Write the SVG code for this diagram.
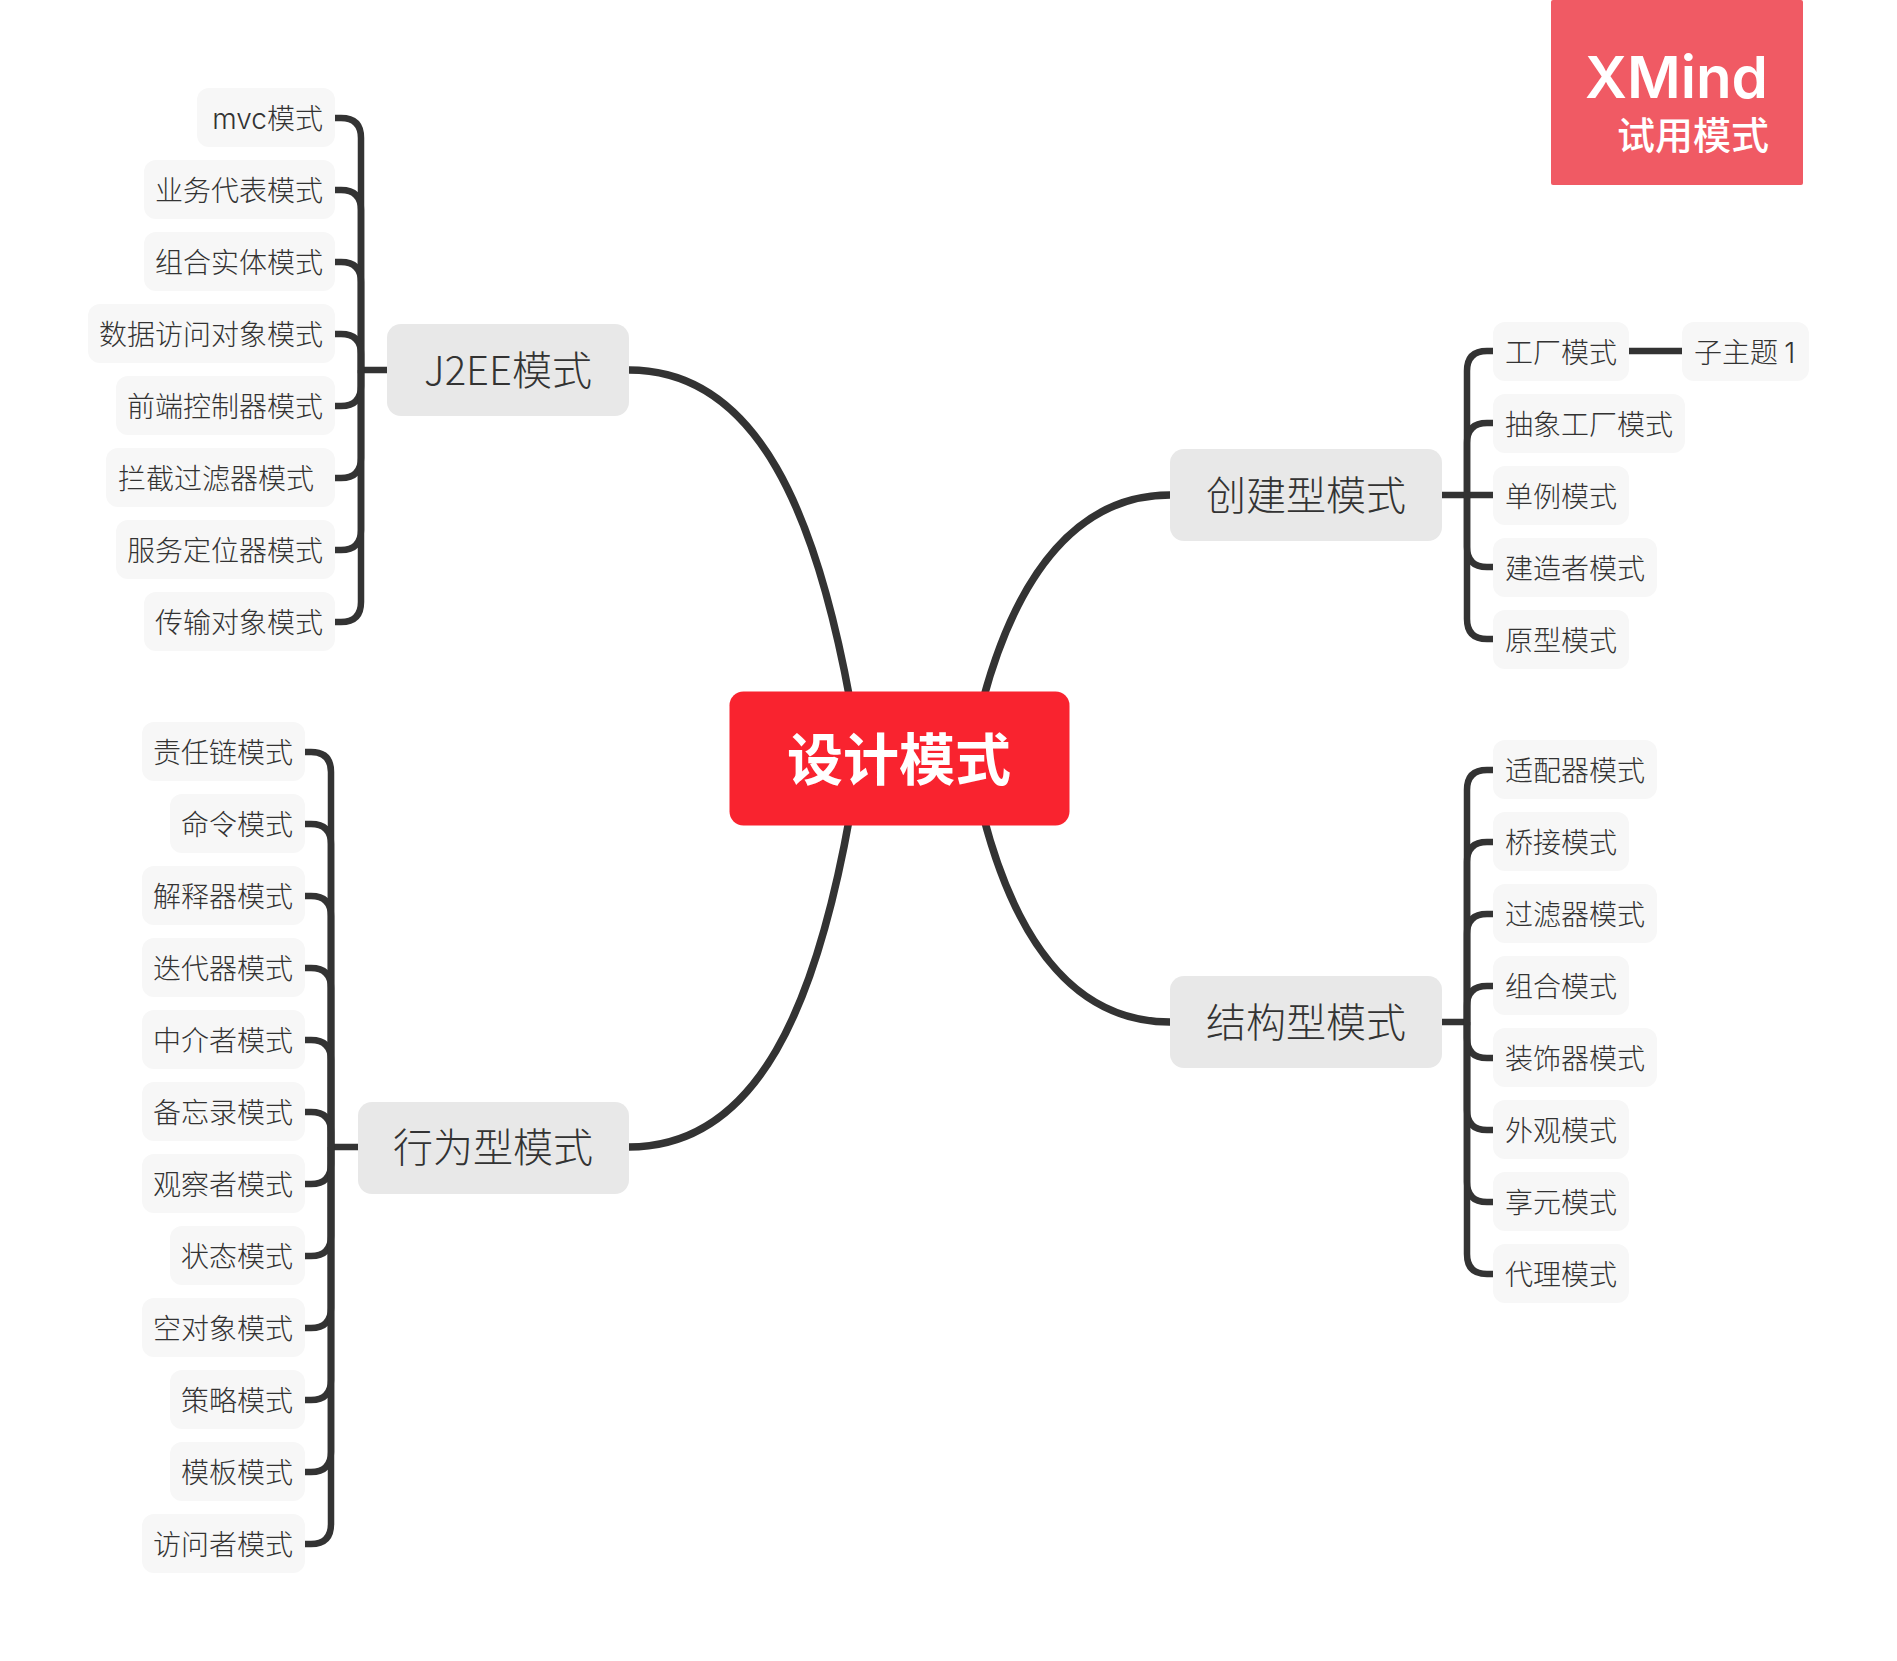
<svg xmlns="http://www.w3.org/2000/svg" width="1897" height="1661" viewBox="0 0 1897 1661">
<style>
text{font-family:"Noto Sans CJK SC","Noto Sans",sans-serif;fill:#333;font-weight:300}
.leaf rect{fill:#f7f7f7}
.leaf text{font-size:28px}
.major rect{fill:#e8e8e8}
.major text{font-size:40px}
.l{text-anchor:end}
#connectors path{fill:none;stroke:#333;stroke-width:6.5}
#connectors path.main{stroke-width:7.5}
.lat{font-family:Inter,"Noto Sans",sans-serif}
</style>
<rect width="1897" height="1661" fill="#fff"/>
<g id="connectors">
<path class="main" d="M629 370C760 370 817 520 850 700"/>
<path class="main" d="M629 1147C760 1147 817 1000 850 815"/>
<path class="main" d="M1170 495C1080 495 1018 570 983 700"/>
<path class="main" d="M1170 1022C1080 1022 1018 950 983 815"/>
<path d="M335 118H341Q361 118 361 138V370H387"/>
<path d="M335 190H341Q361 190 361 210V370"/>
<path d="M335 262H341Q361 262 361 282V370"/>
<path d="M335 334H341Q361 334 361 354V370"/>
<path d="M335 406H341Q361 406 361 386V370"/>
<path d="M335 478H341Q361 478 361 458V370"/>
<path d="M335 550H341Q361 550 361 530V370"/>
<path d="M335 622H341Q361 622 361 602V370"/>
<path d="M305 752H311Q331 752 331 772V1147H358"/>
<path d="M305 824H311Q331 824 331 844V1147"/>
<path d="M305 896H311Q331 896 331 916V1147"/>
<path d="M305 968H311Q331 968 331 988V1147"/>
<path d="M305 1040H311Q331 1040 331 1060V1147"/>
<path d="M305 1112H311Q331 1112 331 1132V1147"/>
<path d="M305 1184H311Q331 1184 331 1164V1147"/>
<path d="M305 1256H311Q331 1256 331 1236V1147"/>
<path d="M305 1328H311Q331 1328 331 1308V1147"/>
<path d="M305 1400H311Q331 1400 331 1380V1147"/>
<path d="M305 1472H311Q331 1472 331 1452V1147"/>
<path d="M305 1544H311Q331 1544 331 1524V1147"/>
<path d="M1493 351H1487Q1467 351 1467 371V495H1441"/>
<path d="M1493 423H1487Q1467 423 1467 443V495"/>
<path d="M1493 495H1467"/>
<path d="M1493 567H1487Q1467 567 1467 547V495"/>
<path d="M1493 639H1487Q1467 639 1467 619V495"/>
<path d="M1629 351H1682"/>
<path d="M1493 770H1487Q1467 770 1467 790V1022H1441"/>
<path d="M1493 842H1487Q1467 842 1467 862V1022"/>
<path d="M1493 914H1487Q1467 914 1467 934V1022"/>
<path d="M1493 986H1487Q1467 986 1467 1006V1022"/>
<path d="M1493 1058H1487Q1467 1058 1467 1038V1022"/>
<path d="M1493 1130H1487Q1467 1130 1467 1110V1022"/>
<path d="M1493 1202H1487Q1467 1202 1467 1182V1022"/>
<path d="M1493 1274H1487Q1467 1274 1467 1254V1022"/>
</g>
<g id="root"><rect x="729.5" y="691.5" width="340" height="134" rx="14" fill="#f9232f"/><text x="899" y="780" text-anchor="middle" font-size="56" style="fill:#fff;font-weight:700">设计模式</text></g>
<g id="j2ee" class="major"><rect x="387" y="324" width="242" height="92" rx="14"/><text x="508" y="385" text-anchor="middle">J2EE模式</text></g>
<g id="behavior" class="major"><rect x="358" y="1102" width="271" height="92" rx="14"/><text x="493" y="1162" text-anchor="middle">行为型模式</text></g>
<g id="creational" class="major"><rect x="1170" y="449" width="272" height="92" rx="14"/><text x="1306" y="510" text-anchor="middle">创建型模式</text></g>
<g id="structural" class="major"><rect x="1170" y="976" width="272" height="92" rx="14"/><text x="1306" y="1037" text-anchor="middle">结构型模式</text></g>
<g id="j1" class="leaf"><rect x="197" y="88" width="138" height="59" rx="12"/><text class="l" x="323" y="129"><tspan class="lat">mvc</tspan>模式</text></g>
<g id="j2" class="leaf"><rect x="144" y="160" width="191" height="59" rx="12"/><text class="l" x="323" y="201">业务代表模式</text></g>
<g id="j3" class="leaf"><rect x="144" y="232" width="191" height="59" rx="12"/><text class="l" x="323" y="273">组合实体模式</text></g>
<g id="j4" class="leaf"><rect x="88" y="304" width="247" height="59" rx="12"/><text class="l" x="323" y="345">数据访问对象模式</text></g>
<g id="j5" class="leaf"><rect x="116" y="376" width="219" height="59" rx="12"/><text class="l" x="323" y="417">前端控制器模式</text></g>
<g id="j6" class="leaf"><rect x="106" y="448" width="229" height="59" rx="12"/><text class="l" x="314" y="489">拦截过滤器模式</text></g>
<g id="j7" class="leaf"><rect x="116" y="520" width="219" height="59" rx="12"/><text class="l" x="323" y="561">服务定位器模式</text></g>
<g id="j8" class="leaf"><rect x="144" y="592" width="191" height="59" rx="12"/><text class="l" x="323" y="633">传输对象模式</text></g>
<g id="b1" class="leaf"><rect x="142" y="722" width="163" height="59" rx="12"/><text class="l" x="293" y="763">责任链模式</text></g>
<g id="b2" class="leaf"><rect x="170" y="794" width="135" height="59" rx="12"/><text class="l" x="293" y="835">命令模式</text></g>
<g id="b3" class="leaf"><rect x="142" y="866" width="163" height="59" rx="12"/><text class="l" x="293" y="907">解释器模式</text></g>
<g id="b4" class="leaf"><rect x="142" y="938" width="163" height="59" rx="12"/><text class="l" x="293" y="979">迭代器模式</text></g>
<g id="b5" class="leaf"><rect x="142" y="1010" width="163" height="59" rx="12"/><text class="l" x="293" y="1051">中介者模式</text></g>
<g id="b6" class="leaf"><rect x="142" y="1082" width="163" height="59" rx="12"/><text class="l" x="293" y="1123">备忘录模式</text></g>
<g id="b7" class="leaf"><rect x="142" y="1154" width="163" height="59" rx="12"/><text class="l" x="293" y="1195">观察者模式</text></g>
<g id="b8" class="leaf"><rect x="170" y="1226" width="135" height="59" rx="12"/><text class="l" x="293" y="1267">状态模式</text></g>
<g id="b9" class="leaf"><rect x="142" y="1298" width="163" height="59" rx="12"/><text class="l" x="293" y="1339">空对象模式</text></g>
<g id="b10" class="leaf"><rect x="170" y="1370" width="135" height="59" rx="12"/><text class="l" x="293" y="1411">策略模式</text></g>
<g id="b11" class="leaf"><rect x="170" y="1442" width="135" height="59" rx="12"/><text class="l" x="293" y="1483">模板模式</text></g>
<g id="b12" class="leaf"><rect x="142" y="1514" width="163" height="59" rx="12"/><text class="l" x="293" y="1555">访问者模式</text></g>
<g id="c1" class="leaf"><rect x="1493" y="322" width="136" height="59" rx="12"/><text x="1505" y="363">工厂模式</text></g>
<g id="c1a" class="leaf"><rect x="1682" y="322" width="127" height="59" rx="12"/><text x="1694" y="363">子主题 <tspan class="lat">1</tspan></text></g>
<g id="c2" class="leaf"><rect x="1493" y="394" width="192" height="59" rx="12"/><text x="1505" y="435">抽象工厂模式</text></g>
<g id="c3" class="leaf"><rect x="1493" y="466" width="136" height="59" rx="12"/><text x="1505" y="507">单例模式</text></g>
<g id="c4" class="leaf"><rect x="1493" y="538" width="164" height="59" rx="12"/><text x="1505" y="579">建造者模式</text></g>
<g id="c5" class="leaf"><rect x="1493" y="610" width="136" height="59" rx="12"/><text x="1505" y="651">原型模式</text></g>
<g id="s1" class="leaf"><rect x="1493" y="740" width="164" height="59" rx="12"/><text x="1505" y="781">适配器模式</text></g>
<g id="s2" class="leaf"><rect x="1493" y="812" width="136" height="59" rx="12"/><text x="1505" y="853">桥接模式</text></g>
<g id="s3" class="leaf"><rect x="1493" y="884" width="164" height="59" rx="12"/><text x="1505" y="925">过滤器模式</text></g>
<g id="s4" class="leaf"><rect x="1493" y="956" width="136" height="59" rx="12"/><text x="1505" y="997">组合模式</text></g>
<g id="s5" class="leaf"><rect x="1493" y="1028" width="164" height="59" rx="12"/><text x="1505" y="1069">装饰器模式</text></g>
<g id="s6" class="leaf"><rect x="1493" y="1100" width="136" height="59" rx="12"/><text x="1505" y="1141">外观模式</text></g>
<g id="s7" class="leaf"><rect x="1493" y="1172" width="136" height="59" rx="12"/><text x="1505" y="1213">享元模式</text></g>
<g id="s8" class="leaf"><rect x="1493" y="1244" width="136" height="59" rx="12"/><text x="1505" y="1285">代理模式</text></g>
<g id="watermark"><rect x="1551" y="0" width="252" height="185" rx="2" fill="#f05a64"/><text x="1768" y="98" text-anchor="end" font-size="58" textLength="183" lengthAdjust="spacingAndGlyphs" style="font-family:Inter,'Noto Sans',sans-serif;fill:#fff;font-weight:600">XMind</text><text x="1769" y="149" text-anchor="end" font-size="38" style="fill:#fff;font-weight:500">试用模式</text></g>
</svg>
